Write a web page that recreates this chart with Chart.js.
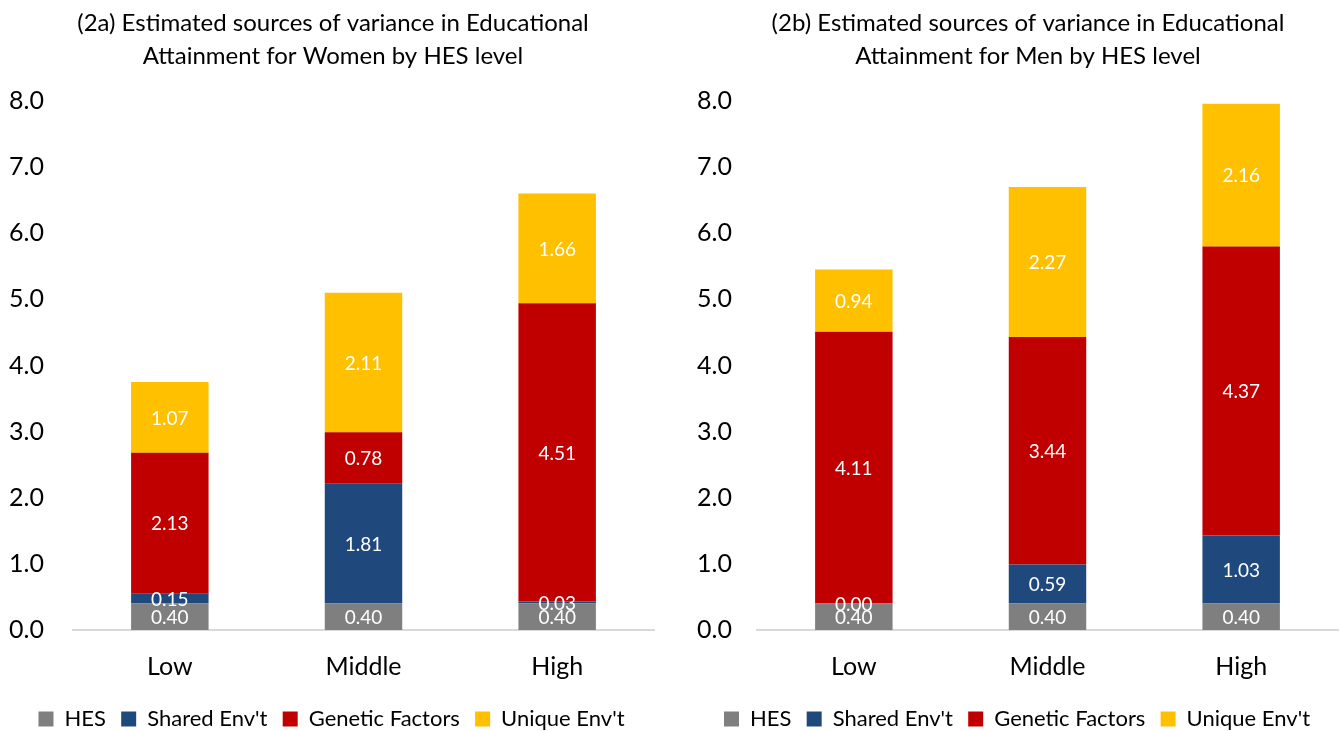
<!DOCTYPE html>
<html>
<head>
<meta charset="utf-8">
<script src="https://cdn.jsdelivr.net/npm/chart.js@4.4.1/dist/chart.umd.min.js"></script>
<style>
  body { margin: 0; background: #fff; }
  .wrap { position: absolute; top: 0; width: 671px; height: 731px; }
  #left { left: 0; }
  #right { left: 671px; }
</style>
</head>
<body>
<div class="wrap" id="left"><canvas id="womenChart"></canvas></div>
<div class="wrap" id="right"><canvas id="menChart"></canvas></div>
<script>
const levels = ["Low", "Middle", "High"];
const seriesNames = ["HES", "Shared Env't", "Genetic Factors", "Unique Env't"];
const seriesColors = ["#7f7f7f", "#1f497d", "#c00000", "#ffc000"];

const womenHES = [0.40, 0.40, 0.40];
const womenShared = [0.15, 1.81, 0.03];
const womenGenetic = [2.13, 0.78, 4.51];
const womenUnique = [1.07, 2.11, 1.66];

const menHES = [0.40, 0.40, 0.40];
const menShared = [0.00, 0.59, 1.03];
const menGenetic = [4.11, 3.44, 4.37];
const menUnique = [0.94, 2.27, 2.16];

const womenTitle = ["(2a) Estimated sources of variance in Educational", "Attainment for Women by HES level"];
const menTitle = ["(2b) Estimated sources of variance in Educational", "Attainment for Men by HES level"];

const FONT = "Lato, 'Open Sans', sans-serif";

// white value labels in the middle of each segment
const segmentLabels = {
  id: "segmentLabels",
  afterDatasetsDraw(chart) {
    const ctx = chart.ctx;
    ctx.save();
    ctx.fillStyle = "#ffffff";
    ctx.font = "19px " + FONT;
    ctx.textAlign = "center";
    ctx.textBaseline = "middle";
    chart.data.datasets.forEach((ds, i) => {
      const meta = chart.getDatasetMeta(i);
      meta.data.forEach((bar, j) => {
        const p = bar.getProps(["x", "y", "base"], true);
        ctx.fillText(ds.data[j].toFixed(2), p.x, (p.y + p.base) / 2 + 1);
      });
    });
    ctx.restore();
  }
};

// two-line panel title, centred where the original places it
const panelTitle = {
  id: "panelTitle",
  afterDraw(chart, args, opts) {
    const ctx = chart.ctx;
    ctx.save();
    ctx.fillStyle = "#000";
    ctx.font = "24px " + FONT;
    ctx.textAlign = "center";
    ctx.textBaseline = "middle";
    opts.lines.forEach((line, i) => ctx.fillText(line, opts.cx, 23 + i * 33));
    ctx.restore();
  }
};

function makeChart(id, title, hes, shared, genetic, unique, pad) {
  const values = [hes, shared, genetic, unique];
  new Chart(document.getElementById(id), {
    type: "bar",
    data: {
      labels: levels,
      datasets: values.map((v, i) => ({
        label: seriesNames[i],
        data: v,
        backgroundColor: seriesColors[i],
        borderWidth: 0,
        barPercentage: 0.4,
        categoryPercentage: 1.0
      }))
    },
    options: {
      responsive: true,
      maintainAspectRatio: false,
      animation: false,
      layout: { padding: { left: pad.left, right: pad.right, top: 101, bottom: -9 } },
      plugins: {
        panelTitle: { lines: title, cx: pad.cx },
        legend: {
          position: "bottom",
          labels: {
            color: "#000",
            font: { family: FONT, size: 22 },
            boxWidth: 15,
            boxHeight: 15,
            padding: 4,
            generateLabels(chart) {
              const items = Chart.defaults.plugins.legend.labels.generateLabels(chart);
              items.forEach((it, i) => { if (i < items.length - 1) it.text += "  "; });
              return items;
            }
          }
        },
        tooltip: { enabled: false }
      },
      scales: {
        x: {
          stacked: true,
          grid: { display: false, drawTicks: false },
          border: { color: "#d9d9d9", width: 2 },
          ticks: { color: "#000", font: { family: FONT, size: 25 }, padding: 22 }
        },
        y: {
          stacked: true,
          min: 0,
          max: 8,
          grid: { display: false, drawTicks: false },
          border: { display: false },
          ticks: {
            stepSize: 1,
            color: "#000",
            font: { family: FONT, size: 25 },
            padding: pad.tick,
            callback: v => v.toFixed(1)
          },
          afterFit(axis) { axis.width = pad.axis; }
        }
      }
    },
    plugins: [segmentLabels, panelTitle]
  });
}

makeChart("womenChart", womenTitle, womenHES, womenShared, womenGenetic, womenUnique,
  { left: 9, right: 17, axis: 64, tick: 29, cx: 333 });
makeChart("menChart", menTitle, menHES, menShared, menGenetic, menUnique,
  { left: 25, right: 4, axis: 61, tick: 25, cx: 357 });
</script>
</body>
</html>
